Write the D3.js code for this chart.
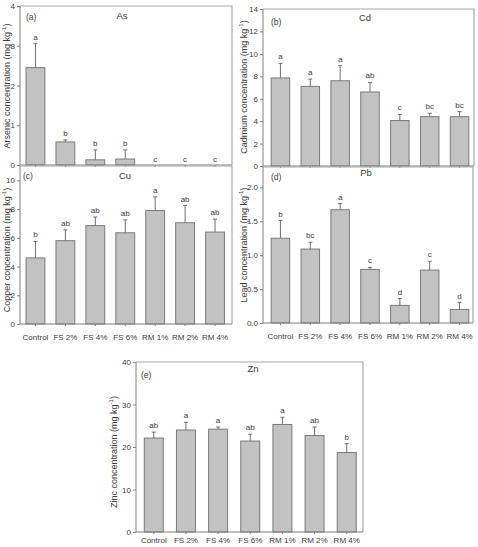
<!DOCTYPE html>
<html>
<head>
<meta charset="utf-8">
<script src="https://cdn.jsdelivr.net/npm/d3@7"></script>
<style>
  html, body { margin: 0; padding: 0; background: #fff; }
  svg { display: block; font-family: "Liberation Sans", Arial, sans-serif; }
</style>
</head>
<body>
<svg id="chart" width="478" height="547"></svg>
<script>
// ---------------- data ----------------
const categories = ["Control", "FS 2%", "FS 4%", "FS 6%", "RM 1%", "RM 2%", "RM 4%"];

const asMean    = [2.45, 0.58, 0.13, 0.15, 0, 0, 0];
const asErr     = [0.60, 0.05, 0.25, 0.23, 0, 0, 0];
const asLetters = ["a", "b", "b", "b", "c", "c", "c"];
const asTicks   = [0, 1, 2, 3, 4];

const cdMean    = [7.85, 7.10, 7.60, 6.60, 4.05, 4.40, 4.40];
const cdErr     = [1.30, 0.65, 1.35, 0.85, 0.55, 0.30, 0.45];
const cdLetters = ["a", "a", "a", "ab", "c", "bc", "bc"];
const cdTicks   = [0, 2, 4, 6, 8, 10, 12, 14];

const cuMean    = [4.60, 5.80, 6.85, 6.35, 7.90, 7.05, 6.40];
const cuErr     = [1.15, 0.75, 0.60, 0.90, 0.95, 1.20, 0.90];
const cuLetters = ["b", "ab", "ab", "ab", "a", "ab", "ab"];
const cuTicks   = [0, 2, 4, 6, 8, 10];

const pbMean    = [1.25, 1.09, 1.67, 0.79, 0.26, 0.78, 0.20];
const pbErr     = [0.26, 0.10, 0.09, 0.03, 0.10, 0.13, 0.10];
const pbLetters = ["b", "bc", "a", "c", "d", "c", "d"];
const pbTicks   = [0, 0.5, 1.0, 1.5, 2.0];

const znMean    = [22.1, 24.0, 24.2, 21.4, 25.3, 22.7, 18.7];
const znErr     = [1.4, 1.8, 0.5, 1.6, 1.7, 2.0, 2.1];
const znLetters = ["ab", "a", "a", "ab", "a", "ab", "b"];
const znTicks   = [0, 10, 20, 30, 40];

// ---------------- layout ----------------
const panels = [
  { mean: asMean, err: asErr, letters: asLetters, ticks: asTicks, max: 4, fmt: d3.format("d"),
    box: [20, 232, 6, 165], band: [20.5, 230], pad: 0.37, xlabels: false, xpad: 8,
    tag: "(a)", tagXY: [26, 20], title: "As", titleXY: [122, 19],
    ytitle: "Arsenic concentration", ytXY: [9.5, 86] },
  { mean: cdMean, err: cdErr, letters: cdLetters, ticks: cdTicks, max: 14, fmt: d3.format("d"),
    box: [263, 474, 9, 166], band: [265.5, 474.5], pad: 0.38, xlabels: false, xpad: 8,
    tag: "(b)", tagXY: [271, 25], title: "Cd", titleXY: [365, 21],
    ytitle: "Cadmium concentration", ytXY: [246.5, 87] },
  { mean: cuMean, err: cuErr, letters: cuLetters, ticks: cuTicks, max: 11, fmt: d3.format("d"),
    box: [20, 232, 166, 324], band: [20.5, 230], pad: 0.37, xlabels: true, xpad: 8,
    tag: "(c)", tagXY: [23, 179], title: "Cu", titleXY: [125, 179],
    ytitle: "Copper concentration", ytXY: [9.5, 250] },
  { mean: pbMean, err: pbErr, letters: pbLetters, ticks: pbTicks, max: 2.3, fmt: d3.format(".1f"),
    box: [263, 473, 167, 323], band: [265.5, 474.5], pad: 0.38, xlabels: true, xpad: 8,
    tag: "(d)", tagXY: [271, 180], title: "Pb", titleXY: [366, 176],
    ytitle: "Lead concentration", ytXY: [246.5, 245] },
  { mean: znMean, err: znErr, letters: znLetters, ticks: znTicks, max: 40, fmt: d3.format("d"),
    box: [136, 363, 362, 532], band: [137.7, 362.8], pad: 0.41, xlabels: true, xpad: 3.5,
    tag: "(e)", tagXY: [141, 378], title: "Zn", titleXY: [253, 372],
    ytitle: "Zinc concentration", ytXY: [117, 452] }
];

const svg = d3.select("#chart");
const textCol = "#3a3a3a";
const axisCol = "#808080";
const boxCol = "#a8a8a8";
const barFill = "#c2c2c2";
const barStroke = "#7a7a7a";

panels.forEach(p => {
  const [L, R, T, B] = p.box;
  const g = svg.append("g");
  const x = d3.scaleBand().domain(categories).range(p.band)
    .paddingInner(p.pad).paddingOuter(p.pad / 2);
  const y = d3.scaleLinear().domain([0, p.max]).range([B, T]);

  // box top & right
  g.append("path").attr("d", `M${L},${T}H${R}V${B}`)
    .attr("fill", "none").attr("stroke", boxCol).attr("stroke-width", 1.2);

  // bars
  g.selectAll("rect.bar").data(categories).join("rect")
    .attr("class", "bar")
    .attr("x", d => x(d))
    .attr("width", x.bandwidth())
    .attr("y", (d, i) => y(p.mean[i]))
    .attr("height", (d, i) => B - y(p.mean[i]))
    .attr("fill", barFill).attr("stroke", barStroke).attr("stroke-width", 1);

  // error bars
  categories.forEach((c, i) => {
    if (p.err[i] <= 0) return;
    const cx = x(c) + x.bandwidth() / 2;
    const y0 = y(p.mean[i]), y1 = y(p.mean[i] + p.err[i]);
    g.append("line").attr("x1", cx).attr("x2", cx).attr("y1", y0).attr("y2", y1)
      .attr("stroke", "#6f6f6f").attr("stroke-width", 1);
    g.append("line").attr("x1", cx - 2).attr("x2", cx + 2).attr("y1", y1).attr("y2", y1)
      .attr("stroke", "#6f6f6f").attr("stroke-width", 1);
  });

  // significance letters
  g.selectAll("text.sig").data(categories).join("text")
    .attr("class", "sig")
    .attr("x", d => x(d) + x.bandwidth() / 2)
    .attr("y", (d, i) => y(p.mean[i] + p.err[i]) - (p.mean[i] === 0 ? 3 : 4))
    .attr("text-anchor", "middle")
    .attr("font-size", 8).attr("fill", textCol)
    .text((d, i) => p.letters[i]);

  // y axis
  const ya = g.append("g").attr("transform", `translate(${L},0)`)
    .call(d3.axisLeft(y).tickValues(p.ticks).tickFormat(p.fmt).tickSize(3).tickPadding(2).tickSizeOuter(0));
  ya.select(".domain").attr("stroke", axisCol).attr("d", `M0,${B}V${T}`);
  ya.selectAll(".tick line").attr("stroke", axisCol);
  ya.selectAll(".tick text").attr("font-size", 8).attr("fill", textCol)
    .attr("font-family", "Liberation Sans, Arial, sans-serif");

  // x axis
  const xa = g.append("g").attr("transform", `translate(0,${B})`)
    .call(d3.axisBottom(x).tickSize(2).tickPadding(p.xpad).tickSizeOuter(0));
  xa.select(".domain").attr("stroke", axisCol).attr("d", `M${L},0H${R}`);
  xa.selectAll(".tick line").attr("stroke", axisCol);
  xa.selectAll(".tick text").attr("font-size", 8).attr("fill", textCol)
    .attr("font-family", "Liberation Sans, Arial, sans-serif");
  if (!p.xlabels) xa.selectAll(".tick text").remove();

  // panel tag and title
  g.append("text").attr("x", p.tagXY[0]).attr("y", p.tagXY[1])
    .attr("font-size", 8.5).attr("fill", textCol).text(p.tag);
  g.append("text").attr("x", p.titleXY[0]).attr("y", p.titleXY[1])
    .attr("text-anchor", "middle").attr("font-size", 9.5).attr("fill", textCol).text(p.title);

  // y title
  const yt = g.append("text")
    .attr("transform", `translate(${p.ytXY[0]},${p.ytXY[1]}) rotate(-90)`)
    .attr("text-anchor", "middle").attr("font-size", 9).attr("fill", textCol);
  yt.append("tspan").text(p.ytitle + " (mg kg");
  yt.append("tspan").attr("font-size", 6).attr("dy", -4).text("-1");
  yt.append("tspan").attr("dy", 4).text(")");
});
</script>
</body>
</html>
